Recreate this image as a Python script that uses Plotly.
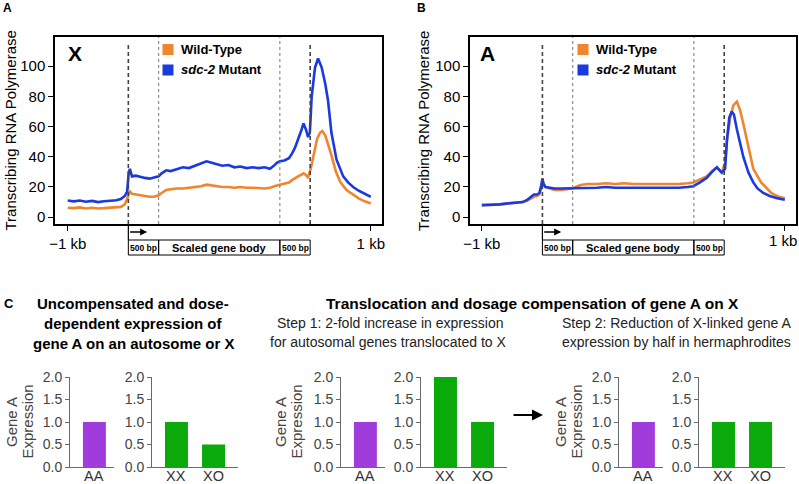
import plotly.graph_objects as go

# ---------------- data ----------------
# Panel A (X chromosome genes): position 0 = -1 kb, 20 = TSS, 30 = +500 bp, 70 = -500 bp, 80 = TES, 100 = +1 kb
x_pos_mut = [0, 2, 4, 6, 8, 10, 12, 14, 16, 17.5, 18.8, 19.6, 20.1, 20.5, 21.2, 22.5, 24, 25.5, 27, 28.5,
             30, 31, 32.5, 34, 36, 38, 40, 42, 44, 45.8, 47.5, 49, 51, 53, 55, 57, 59, 61, 63, 65,
             66.7, 68, 69, 70, 71.5, 73, 74, 75, 76, 77, 77.8, 78.6, 79.3, 79.9, 80.5, 81.6, 82.6, 83.8, 85, 85.9,
             87, 88.7, 90.9, 92.5, 94.2, 96, 98, 100]
x_mut = [11, 10.5, 11, 10.2, 10.8, 10, 10.5, 10.8, 11.2, 12, 14, 17, 29, 32, 27, 27.5, 26.5, 26, 25.5, 26,
         27, 29, 31, 30.5, 31.5, 33, 32.5, 34, 35.5, 37, 36, 35, 34, 34.5, 33, 33.5, 32.5, 33, 32.5, 33,
         32, 34, 36, 37, 37.5, 39, 42, 46, 51, 57, 62, 58, 53, 56, 80, 99, 105, 99, 88, 77,
         56, 38, 27, 23, 20, 17.5, 15.5, 13.5]
x_pos_wt = [0, 2, 4, 6, 8, 10, 12, 14, 16, 17.5, 18.8, 19.6, 20.1, 20.5, 21.2, 22.5, 24, 25.5, 27, 28.5,
            30, 31, 32.5, 34, 36, 38, 40, 42, 44, 45.8, 47.5, 49, 51, 53, 55, 57, 59, 61, 63, 65,
            66.7, 68, 69, 70, 71.5, 73, 74, 75, 76, 77, 77.8, 78.6, 79.3, 80.3, 81.3, 82.3, 83.3, 84, 85, 86,
            87, 88.5, 90, 92, 94, 96, 98, 100]
x_wt = [6.2, 6, 6.5, 5.8, 6.2, 5.8, 6, 6.3, 6.2, 6.8, 8.5, 12, 15.5, 17, 15.5, 15, 14.5, 14, 13.5, 13.5,
        14.5, 16, 18, 18.5, 19, 19, 19.5, 20, 20.5, 21.5, 21, 20.5, 20, 20, 19.5, 20, 19.5, 19.5, 19, 19,
        19.5, 20.5, 21, 21.5, 22, 23, 24.5, 26, 27, 28, 29, 28, 26, 33, 43, 52, 56, 57, 54, 48,
        41, 30, 23, 18, 15, 12.5, 10.5, 9]

# Panel B (autosomal genes)
a_pos_mut = [0, 2, 4, 6, 8, 10, 12, 13.5, 15, 16.2, 17.2, 18.2, 19, 19.6, 20, 20.4, 21, 22.5, 24, 26,
             28, 30, 32, 35, 38, 41, 44, 47, 50, 53, 56, 59, 62, 65, 68, 69.8, 72, 74.2, 76, 77.6,
             78.5, 79.2, 80.3, 80.9, 81.7, 82.5, 83.2, 84.2, 86.3, 88, 89.6, 91, 92.9, 95, 97.5, 100]
a_mut = [8, 8, 8.3, 8.5, 9, 9.3, 10, 10, 11.5, 13.5, 15, 15, 16, 21, 25.5, 22, 20, 19.5, 19, 19,
         19, 19, 19.5, 19.5, 19.5, 20, 19.5, 19.5, 19.5, 19.8, 19.5, 19.5, 19.8, 19.5, 20, 20.5, 23, 26, 30, 33,
         31, 29.5, 32, 51, 66, 70, 68, 58, 40, 29.5, 23, 19, 16, 14, 12.5, 11.5]
a_pos_wt = [0, 2, 4, 6, 8, 10, 12, 13.5, 15, 16.2, 17.2, 18.2, 19, 19.6, 20, 20.4, 21, 22.5, 24, 26,
            28, 30, 31.5, 33, 35, 38, 41, 44, 47, 50, 53, 56, 59, 62, 65, 68, 69.8, 72, 74.2, 76,
            77.6, 78.5, 79.2, 80.3, 81, 82, 83, 84.2, 85.2, 86.3, 88, 89.6, 92.2, 95.5, 98, 100]
a_wt = [8, 8, 8.2, 8.6, 9, 9.5, 9.8, 10, 11, 12.5, 13.5, 14, 15, 19, 22, 21, 20, 19, 18, 18,
        18.5, 19, 20.5, 21.5, 22, 22, 22.5, 22, 22.5, 22, 22, 22, 22.3, 22, 22, 22.5, 23, 25, 27, 30.5,
        33, 31, 29.5, 36, 52, 66, 74, 76.5, 71, 62, 47, 32, 23, 16, 13.5, 12.5]

prof_yticks = [0, 20, 40, 60, 80, 100]
prof_xticks = [0, 100]
prof_xticktext = ["−1 kb", "1 kb"]
region_edges = [20, 30, 70, 80]

# Panel C bar charts
c1_cats, c1_vals = ["AA"], [1.0]
c2_cats, c2_vals = ["XX", "XO"], [1.0, 0.5]
c3_cats, c3_vals = ["AA"], [1.0]
c4_cats, c4_vals = ["XX", "XO"], [2.0, 1.0]
c5_cats, c5_vals = ["AA"], [1.0]
c6_cats, c6_vals = ["XX", "XO"], [1.0, 1.0]
bar_yticks = [0, 0.5, 1.0, 1.5, 2.0]
bar_yticktext = ["0.0", "0.5", "1.0", "1.5", "2.0"]

# ---------------- style ----------------
W, H = 799, 484
FONT = "Liberation Sans, Arial, Helvetica, sans-serif"
ORANGE = "#F0852D"
BLUE = "#1A3AE0"
PURPLE = "#A03CDC"
GREEN = "#0AAA0A"
AXGRAY = "#6a6a6a"


def px(x):
    return x / W


def py(y):
    return 1 - y / H


fig = go.Figure()

for xs, ys, col, xa, ya in [
    (x_pos_wt, x_wt, ORANGE, "x", "y"),
    (x_pos_mut, x_mut, BLUE, "x", "y"),
    (a_pos_wt, a_wt, ORANGE, "x2", "y2"),
    (a_pos_mut, a_mut, BLUE, "x2", "y2"),
]:
    fig.add_trace(go.Scatter(x=xs, y=ys, mode="lines", line=dict(color=col, width=2.6),
                             xaxis=xa, yaxis=ya, showlegend=False, hoverinfo="skip"))

bars = [(c1_cats, c1_vals, PURPLE), (c2_cats, c2_vals, GREEN), (c3_cats, c3_vals, PURPLE),
        (c4_cats, c4_vals, GREEN), (c5_cats, c5_vals, PURPLE), (c6_cats, c6_vals, GREEN)]
for i, (cats, vals, col) in enumerate(bars):
    n = i + 3
    fig.add_trace(go.Bar(x=cats, y=vals, marker=dict(color=col, line=dict(width=0)), width=0.62,
                         xaxis=f"x{n}", yaxis=f"y{n}", showlegend=False, hoverinfo="skip"))

layout = dict(
    width=W, height=H, margin=dict(l=0, r=0, t=0, b=0, pad=0, autoexpand=False),
    paper_bgcolor="white", plot_bgcolor="white",
    font=dict(family=FONT, color="black"),
    bargap=0.3,
)

for k, (x0, x1, xr) in enumerate([(55, 382, [-4.2, 103.7]), (470, 796, [-3.9, 103.7])]):
    sfx = "" if k == 0 else "2"
    layout[f"xaxis{sfx}"] = dict(domain=[px(x0), px(x1)], anchor=f"y{sfx}", range=xr,
                                 tickvals=prof_xticks,
                                 ticktext=prof_xticktext if k == 0 else [prof_xticktext[0], " "],
                                 ticks="outside",
                                 ticklen=5, tickwidth=1.2, tickcolor="black",
                                 showline=True, mirror=True, linecolor="black", linewidth=1.5,
                                 showgrid=False, zeroline=False,
                                 tickfont=dict(size=15, family=FONT, color="black"))
    layout[f"yaxis{sfx}"] = dict(domain=[py(224), py(37)], anchor=f"x{sfx}", range=[-4.5, 119.2],
                                 tickvals=prof_yticks, ticks="outside", ticklen=5, tickwidth=1.2,
                                 tickcolor="black", showline=True, mirror=True, linecolor="black",
                                 linewidth=1.5, showgrid=False, zeroline=False,
                                 tickfont=dict(size=15, family=FONT, color="black"))

bar_domains = [(70, 114, 1), (152, 238, 2), (341, 385, 1), (421, 507, 2), (619, 663, 1), (699, 785, 2)]
for i, (x0, x1, nc) in enumerate(bar_domains):
    n = i + 3
    xr = [-0.66, 0.53] if nc == 1 else [-0.66, 1.66]
    layout[f"xaxis{n}"] = dict(domain=[px(x0), px(x1)], anchor=f"y{n}", range=xr, type="category",
                               showline=True, linecolor=AXGRAY, linewidth=1, ticks="",
                               showticklabels=False, showgrid=False, zeroline=False)
    layout[f"yaxis{n}"] = dict(domain=[py(467), py(377)], anchor=f"x{n}", range=[0, 2],
                               tickvals=bar_yticks, ticktext=bar_yticktext, ticks="outside",
                               ticklen=4, tickcolor=AXGRAY, showline=True, linecolor=AXGRAY,
                               linewidth=1, showgrid=False, zeroline=False,
                               tickfont=dict(size=14, family=FONT, color="#444"))

fig.update_layout(**layout)

shapes = []
annotations = []


def txt(x, y, s, size, bold=False, color="black", angle=0, xanchor="center", xref="paper", pad=1):
    annotations.append(dict(x=x if xref != "paper" else px(x), y=py(y), xref=xref, yref="paper",
                            text=f"<b>{s}</b>" if bold else s, showarrow=False,
                            font=dict(size=size, color=color, family=FONT), textangle=angle,
                            xanchor=xanchor, yanchor="middle", borderpad=pad))


# category labels of the bar charts, placed on each chart's own category axis
for i, (cats, vals, col) in enumerate(bars):
    for c in cats:
        txt(c, 475.5, c, 14.5, color="#333", xref=f"x{i + 3}", pad=0)

for xa, ya, legx, big, bigx, ytx in [("x", "y", 168, "X", 75, 9.5), ("x2", "y2", 583, "A", 487.5, 423)]:
    for e in region_edges:
        if e in (20, 80):
            shapes.append(dict(type="line", xref=xa, yref=f"{ya} domain", x0=e, x1=e, y0=0, y1=0.973,
                               line=dict(color="#444", width=1.6, dash="4px,3px")))
        else:
            shapes.append(dict(type="line", xref=xa, yref=f"{ya} domain", x0=e, x1=e, y0=0, y1=1,
                               line=dict(color="#777", width=1, dash="dot")))
    # TSS bent arrow
    shapes.append(dict(type="line", xref=xa, yref="paper", x0=20, x1=20, y0=py(224), y1=py(240),
                       line=dict(color="black", width=1.2)))
    annotations.append(dict(x=26.2, y=py(232), xref=xa, yref="paper", ax=-18.5, ay=0,
                            axref="pixel", ayref="pixel", text="", showarrow=True,
                            arrowhead=2, arrowsize=1, arrowwidth=1.4, arrowcolor="black", standoff=0))
    # region boxes
    for a, b in [(20, 30), (30, 70), (70, 80)]:
        shapes.append(dict(type="rect", xref=xa, yref="paper", x0=a, x1=b, y0=py(255), y1=py(240),
                           line=dict(color="black", width=1), fillcolor="rgba(0,0,0,0)"))
    for cx, s, sz in [(25, "500 bp", 8.5), (50, "Scaled gene body", 11), (75, "500 bp", 8.5)]:
        annotations.append(dict(x=cx, y=py(247.5), xref=xa, yref="paper", text=f"<b>{s}</b>",
                                showarrow=False, font=dict(size=sz, family=FONT, color="black"),
                                xanchor="center", yanchor="middle"))
    # legend
    for yy, col in [(49.5, ORANGE), (70, BLUE)]:
        shapes.append(dict(type="rect", xref="paper", yref="paper", x0=px(legx - 5.5), x1=px(legx + 5.5),
                           y0=py(yy + 5.5), y1=py(yy - 5.5), line=dict(width=0), fillcolor=col))
    txt(legx + 11, 50, "Wild-Type", 13, bold=True, xanchor="left")
    txt(legx + 11, 69.5, "<i>sdc-2</i> Mutant", 13, bold=True, xanchor="left")
    txt(bigx, 53, big, 21, bold=True)
    txt(ytx, 131, "Transcribing RNA Polymerase", 15, angle=-90)

# right-edge tick label of panel B, kept inside the page
txt(798.5, 240, prof_xticktext[1], 15, xanchor="right")

# panel letters
txt(7, 8, "A", 12, bold=True)
txt(421, 8, "B", 12, bold=True)
txt(9, 303, "C", 13, bold=True)

# panel C headings
txt(133, 303, "Uncompensated and dose-", 15, bold=True)
txt(133, 323, "dependent expression of", 15, bold=True)
txt(133, 343, "gene A on an autosome or X", 15, bold=True)
txt(532, 303, "Translocation and dosage compensation of gene A on X", 15.5, bold=True)
txt(390, 323, "Step 1: 2-fold increase in expression", 14, color="#222")
txt(388, 342, "for autosomal genes translocated to X", 14, color="#222")
txt(676, 323, "Step 2: Reduction of X-linked gene A", 14, color="#222")
txt(676, 342, "expression by half in hermaphrodites", 14, color="#222")

for gx in [11, 280, 560]:
    txt(gx, 422, "Gene A", 15, color="#444", angle=-90)
    txt(gx + 15.5, 422, "Expression", 15, color="#444", angle=-90)

# step arrow
annotations.append(dict(x=px(543), y=py(415), xref="paper", yref="paper", ax=-31, ay=0,
                        axref="pixel", ayref="pixel", text="", showarrow=True, arrowhead=2,
                        arrowsize=1.1, arrowwidth=2, arrowcolor="black", standoff=0))

fig.update_layout(shapes=shapes, annotations=annotations)
fig.write_html("out.html", config={"displayModeBar": False},
               post_script="document.body.style.margin='0px';document.body.style.overflow='hidden';")
